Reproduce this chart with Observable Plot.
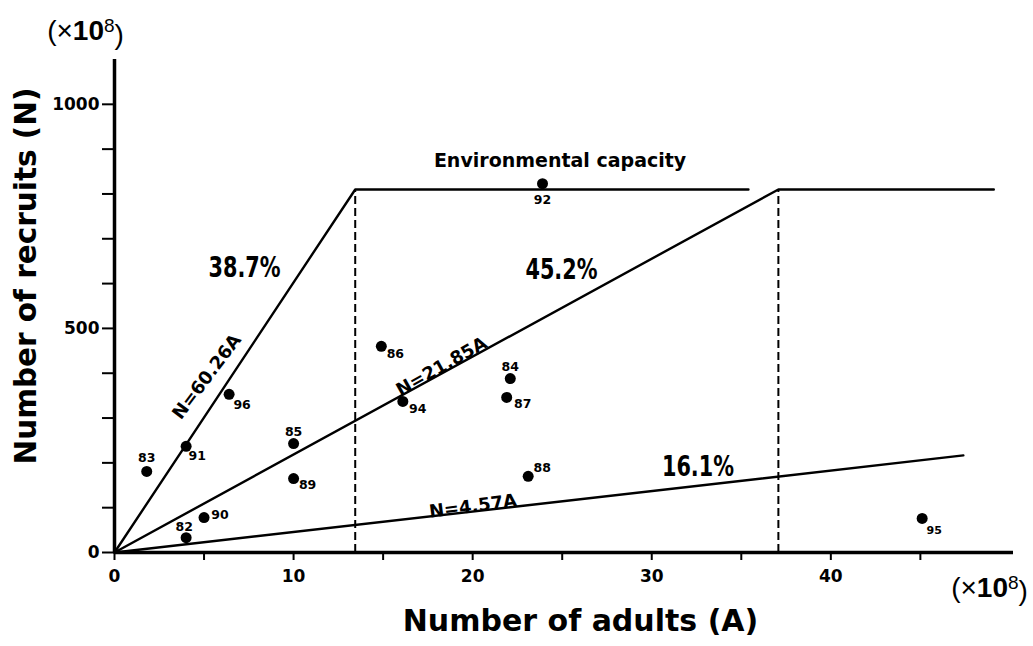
<!DOCTYPE html>
<html>
<head>
<meta charset="utf-8">
<script src="https://cdn.jsdelivr.net/npm/d3@7"></script>
<script src="https://cdn.jsdelivr.net/npm/@observablehq/plot@0.6"></script>
<style>
  body { margin: 0; background: #fff; }
  #chart { width: 1033px; height: 646px; }
</style>
</head>
<body>
<div id="chart"></div>
<script>
// Yearly observations: adults (×10^8) and recruits (×10^8)
const years    = ["83", "91", "96", "82", "90", "85", "89", "86", "94", "84", "87", "88", "95", "92"];
const adults   = [1.8, 4.0, 6.4, 4.0, 5.0, 10.0, 10.0, 14.9, 16.1, 22.1, 21.9, 23.1, 45.1, 23.9];
const recruits = [181, 237, 353, 33, 78, 243, 165, 460, 337, 388, 346, 170, 76, 823];

// Recruitment lines N = s·A, capped by the environmental capacity
const slopes      = [60.26, 21.85, 4.57];
const slopeLabels = ["N=60.26A", "N=21.85A", "N=4.57A"];
const lineEnds    = [35.4, 49.1, 47.4];   // A where each line stops
const capacity    = 810;
const shares      = ["38.7%", "45.2%", "16.1%"];

const xTicks = d3.range(0, 46, 5);
const yTicks = d3.range(0, 1001, 100);

// Layout
const W = 1033, H = 646;
const mL = 114, mR = 20, mT = 59, mB = 94;
const xMax = 50.2, yMax = 1100;

// Polyline for each recruitment line
const segs = [];
slopes.forEach((s, i) => {
  const knee = capacity / s;
  segs.push({id: i, a: 0, n: 0});
  if (knee < lineEnds[i]) {
    segs.push({id: i, a: knee, n: capacity});
    segs.push({id: i, a: lineEnds[i], n: capacity});
  } else {
    segs.push({id: i, a: lineEnds[i], n: s * lineEnds[i]});
  }
});
const knees = slopes.filter((s, i) => capacity / s < lineEnds[i]).map(s => capacity / s);

const pts = years.map((yr, i) => ({yr, a: adults[i], n: recruits[i]}));

// Where each year label sits relative to its dot (px)
const labelOffset = {
  "83": [0, -13], "91": [11, 10], "96": [13, 11], "82": [-2, -11], "90": [16, -3],
  "85": [0, -12], "89": [14, 6], "86": [14, 8], "94": [15, 8], "84": [0, -12],
  "87": [16, 7], "88": [14, -8], "95": [12, 12], "92": [0, 16]
};

// Annotation anchors (data units) and text angles
const lineLabelAt = [[5.16, 392], [18.26, 415], [20.02, 103]];
const lineLabelAngle = [-53, -29.5, -7.5];
const shareAt = [[7.26, 635], [24.96, 631], [32.58, 192]];

const sans = "Liberation Sans, Arial, Helvetica, sans-serif";
const bold = "DejaVu Sans, Verdana, sans-serif";
const cond = "DejaVu Sans Condensed, DejaVu Sans, sans-serif";

const marks = [
  // axes
  Plot.axisY(yTicks, {
    tickSize: 12, tickPadding: 3, strokeWidth: 2,
    tickFormat: d => d % 500 === 0 ? String(d) : "",
    fontSize: 17, fontWeight: "bold", fontFamily: bold, label: null
  }),
  Plot.axisX(xTicks, {
    tickSize: 8, tickPadding: 9, strokeWidth: 2,
    tickFormat: d => d % 10 === 0 ? String(d) : "",
    fontSize: 17, fontWeight: "bold", fontFamily: bold, label: null
  }),
  Plot.ruleX([0], {y1: 0, y2: yMax, strokeWidth: 3.5}),
  Plot.ruleY([0], {x1: 0, x2: xMax, strokeWidth: 3.5}),

  // capacity knees
  Plot.ruleX(knees, {y1: 0, y2: capacity, strokeWidth: 2, strokeDasharray: "8,4"}),

  // recruitment lines
  Plot.line(segs, {x: "a", y: "n", z: "id", strokeWidth: 2.4, strokeLinejoin: "miter"}),

  // observations
  Plot.dot(pts, {x: "a", y: "n", r: 5.5, fill: "black", stroke: "none"}),
  ...pts.map(p => Plot.text([p], {
    x: "a", y: "n", text: "yr",
    dx: labelOffset[p.yr][0], dy: labelOffset[p.yr][1],
    fontSize: p.yr === "95" ? 11 : 12.5, fontWeight: "bold", fontFamily: bold
  })),

  // line equations
  ...slopeLabels.map((t, i) => Plot.text([t], {
    x: () => lineLabelAt[i][0], y: () => lineLabelAt[i][1], text: d => d,
    rotate: lineLabelAngle[i], fontSize: 18, fontWeight: "bold", fontFamily: bold
  })),

  // shares of recruitment
  ...shares.map((t, i) => Plot.text([t], {
    x: () => shareAt[i][0], y: () => shareAt[i][1], text: d => d,
    fontSize: 29, fontWeight: "bold", fontFamily: cond
  })),

  Plot.text(["Environmental capacity"], {
    x: () => 24.88, y: () => 873, text: d => d,
    fontSize: 19, fontWeight: "bold", fontFamily: bold
  }),

  // axis titles and units
  Plot.text(["Number of recruits (N)"], {
    frameAnchor: "left", textAnchor: "middle", dx: -88, dy: -30, rotate: -90, text: d => d,
    fontSize: 29.5, fontWeight: "bold", fontFamily: bold
  }),
  Plot.text(["Number of adults (A)"], {
    frameAnchor: "bottom", textAnchor: "middle", dx: 16.5, dy: 78, text: d => d,
    fontSize: 30, fontWeight: "bold", fontFamily: bold
  }),
  Plot.text(["(×10⁸)"], {
    frameAnchor: "top-left", textAnchor: "middle", dx: -29, dy: -39, text: d => d,
    fontSize: 28, fontFamily: sans
  }),
  Plot.text(["(×10⁸)"], {
    frameAnchor: "bottom-right", textAnchor: "middle", dx: -24, dy: 44, text: d => d,
    fontSize: 28, fontFamily: sans
  })
];

const chart = Plot.plot({
  width: W, height: H,
  marginLeft: mL, marginRight: mR, marginTop: mT, marginBottom: mB,
  x: {domain: [0, xMax]},
  y: {domain: [0, yMax]},
  style: {background: "white", color: "black"},
  marks
});

// Typographic touches: raised exponent in the unit labels, condensed share figures
const svg = d3.select(chart);
svg.selectAll("text")
  .filter(function () { return this.textContent === "(×10⁸)"; })
  .each(function () {
    const t = d3.select(this);
    t.text(null);
    t.append("tspan").text("(×");
    t.append("tspan").attr("font-weight", "bold").text("10");
    t.append("tspan").attr("dy", "-0.42em").attr("font-size", "0.68em").text("8");
    t.append("tspan").attr("dy", "0.42em").text(")");
  });
svg.selectAll("text")
  .filter(function () { return shares.includes(this.textContent); })
  .attr("textLength", 72)
  .attr("lengthAdjust", "spacingAndGlyphs");

document.getElementById("chart").appendChild(chart);
</script>
</body>
</html>
